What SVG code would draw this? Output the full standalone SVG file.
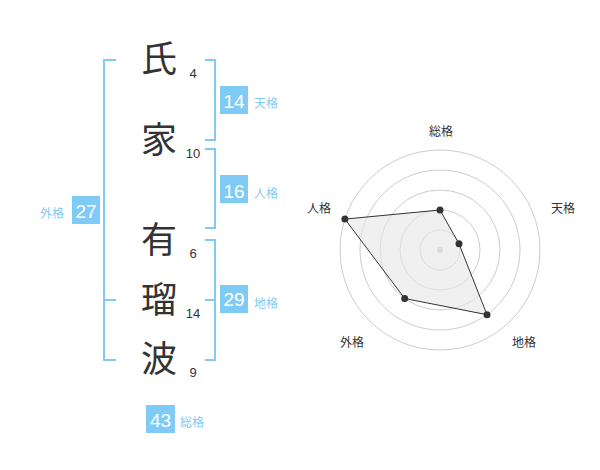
<svg xmlns="http://www.w3.org/2000/svg" width="600" height="470" viewBox="0 0 600 470">
<style>
.ch{font-family:"Noto Sans CJK JP","Noto Sans CJK SC",sans-serif;font-size:36px;fill:#333;text-anchor:middle}
.num{font-family:"Liberation Sans",Arial,sans-serif;font-size:13px;fill:#333;text-anchor:middle}
.br{fill:none;stroke:#7fcbf6;stroke-width:2}
.box{fill:#7fcbf6}
.bt{font-family:"Liberation Sans",Arial,sans-serif;font-size:19px;fill:#fff;text-anchor:middle}
.lb{font-family:"Noto Sans CJK JP","Noto Sans CJK SC",sans-serif;font-size:12px;fill:#7fcbf6}
.rl{font-family:"Noto Sans CJK JP","Noto Sans CJK SC",sans-serif;font-size:12px;fill:#333;text-anchor:middle}
.ring{fill:none;stroke:#ccc;stroke-width:1}
.pt{fill:#333}
</style>
<rect width="600" height="470" fill="#fff"/>
<g id="connectors">
<path class="br" d="M116,60 H104 V360 H116 M104,300 H116"/>
<path class="br" d="M205,60 H215 V140 H205"/>
<path class="br" d="M205,149 H215 V228 H205"/>
<path class="br" d="M205,240 H215 V360 H205 M205,300 H215"/>
</g>
<g id="char1"><text class="ch" x="159" y="72">氏</text><text class="num" x="193" y="78">4</text></g>
<g id="char2"><text class="ch" x="159" y="153">家</text><text class="num" x="193" y="158">10</text></g>
<g id="char3"><text class="ch" x="159" y="253">有</text><text class="num" x="193" y="258">6</text></g>
<g id="char4"><text class="ch" x="159" y="313">瑠</text><text class="num" x="193" y="318">14</text></g>
<g id="char5"><text class="ch" x="159" y="372">波</text><text class="num" x="193" y="377">9</text></g>
<g id="tenkaku"><rect class="box" x="220" y="86" width="28" height="28"/><text class="bt" x="234" y="108">14</text><text class="lb" x="254" y="108">天格</text></g>
<g id="jinkaku"><rect class="box" x="220" y="175" width="28" height="28"/><text class="bt" x="234" y="197.5">16</text><text class="lb" x="254" y="198">人格</text></g>
<g id="chikaku"><rect class="box" x="220" y="285" width="28" height="28"/><text class="bt" x="234" y="306">29</text><text class="lb" x="254" y="308">地格</text></g>
<g id="gaikaku"><rect class="box" x="72" y="196" width="28" height="28"/><text class="bt" x="86" y="218">27</text><text class="lb" x="40" y="218">外格</text></g>
<g id="soukaku"><rect class="box" x="146" y="405" width="29" height="28"/><text class="bt" x="160.5" y="427">43</text><text class="lb" x="180" y="427">総格</text></g>
<g id="radar">
<circle class="ring" cx="440" cy="250" r="20"/>
<circle class="ring" cx="440" cy="250" r="40"/>
<circle class="ring" cx="440" cy="250" r="60"/>
<circle class="ring" cx="440" cy="250" r="80"/>
<circle class="ring" cx="440" cy="250" r="100"/>
<circle cx="440" cy="250" r="3" fill="#ccc"/>
<polygon points="440,210 459,243.8 487,314.7 404.7,298.5 344.9,219.1" fill="#e6e6e6" fill-opacity="0.6" stroke="#333" stroke-width="1"/>
<circle class="pt" cx="440" cy="210" r="3.5"/>
<circle class="pt" cx="459" cy="243.8" r="3.5"/>
<circle class="pt" cx="487" cy="314.7" r="3.5"/>
<circle class="pt" cx="404.7" cy="298.5" r="3.5"/>
<circle class="pt" cx="344.9" cy="219.1" r="3.5"/>
<text class="rl" x="441" y="136">総格</text>
<text class="rl" x="563" y="213">天格</text>
<text class="rl" x="524" y="347">地格</text>
<text class="rl" x="352" y="347">外格</text>
<text class="rl" x="319" y="213">人格</text>
</g>
</svg>
